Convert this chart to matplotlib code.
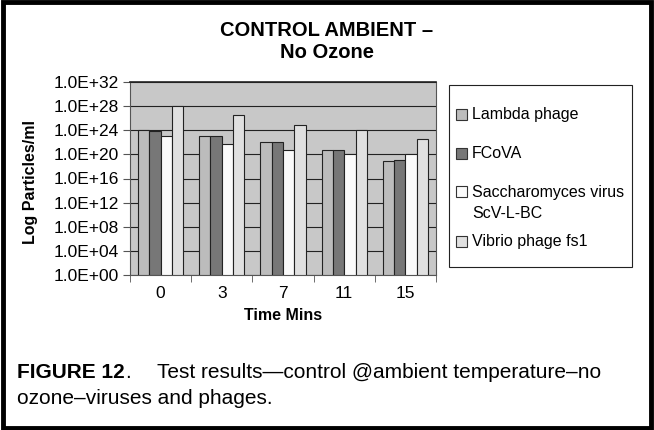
import matplotlib.pyplot as plt
import numpy as np
from matplotlib.patches import Rectangle

plt.rcParams['font.family'] = ['Liberation Sans', 'DejaVu Sans']

# time points and log10 particle counts
times = ['0', '3', '7', '11', '15']
series_names = ['Lambda phage', 'FCoVA', 'Saccharomyces virus\nScV-L-BC', 'Vibrio phage fs1']
lambda_exp = [24.0, 23.0, 22.0, 20.7, 18.9]
fcova_exp = [23.9, 23.0, 22.0, 20.8, 19.0]
sacch_exp = [23.05, 21.8, 20.8, 20.0, 20.0]
vibrio_exp = [28.0, 26.5, 24.9, 24.0, 22.6]
colors = ['#bcbcbc', '#777777', '#fafafa', '#e0e0e0']

W, H = 654.0, 430.0
fig = plt.figure(figsize=(W/100, H/100), dpi=100)
ax = fig.add_axes([130/W, 1-275/H, 306/W, 193/H])
ax.set_facecolor('#c8c8c8')

x = np.arange(len(times))
w = 0.185
allseries = [lambda_exp, fcova_exp, sacch_exp, vibrio_exp]
for i, vals in enumerate(allseries):
	vals = 10.0 ** np.array(vals)
	ax.bar(x + (i - 1.5)*w, vals - 1, bottom=1, width=w, color=colors[i],
		edgecolor='#222222', linewidth=0.8, label=series_names[i], zorder=3)

ax.set_yscale('log')
ax.set_ylim(1, 1e32)
ax.set_xlim(-0.5, len(times) - 0.5)
ax.set_yticks([10.0**k for k in range(0, 33, 4)])
ax.set_yticklabels(['1.0E+%02d' % k for k in range(0, 33, 4)], fontsize=12.5)
ax.yaxis.set_minor_locator(plt.NullLocator())
ax.grid(axis='y', color='#222222', linewidth=0.8, zorder=1)

ax.set_xticks(x)
ax.set_xticklabels(times, fontsize=12.5)
ax.set_xticks(np.arange(len(times) + 1) - 0.5, minor=True)
ax.tick_params(axis='x', which='major', length=0, pad=8)
ax.tick_params(axis='x', which='minor', length=5, color='#555555')
ax.tick_params(axis='y', length=5, color='#555555', pad=3)

for s in ['left', 'right', 'bottom']:
	ax.spines[s].set_color('#555555')
	ax.spines[s].set_linewidth(0.8)
ax.spines['top'].set_color('#222222')
ax.spines['top'].set_linewidth(1.2)

fig.text(283/W, 1-316/H, 'Time Mins', fontsize=11.5, fontweight='bold', ha='center', va='center')
fig.text(31/W, 1-182/H, 'Log Particles/ml', rotation=90, fontsize=11.5,
	fontweight='bold', ha='center', va='center')
fig.text(327/W, 1-30/H, 'CONTROL AMBIENT \u2013', fontsize=14.5,
	fontweight='bold', ha='center', va='center')
fig.text(327/W, 1-53/H, 'No Ozone', fontsize=14.5,
	fontweight='bold', ha='center', va='center')

# legend, laid out like the Excel one (uneven spacing)
fig.patches.append(Rectangle((449/W, 1-267/H), 183/W, 182/H,
	transform=fig.transFigure, fill=False, edgecolor='#222222', linewidth=0.8))
entry_y = [114, 153, 192, 241]
for i, name in enumerate(series_names):
	yy = entry_y[i]
	fig.patches.append(Rectangle((456/W, 1-(yy+5.5)/H), 11/W, 11/H, transform=fig.transFigure,
		facecolor=colors[i], edgecolor='#333333', linewidth=0.8))
	for k, line in enumerate(name.split('\n')):
		fig.text(472/W, 1-(yy + 21*k)/H, line, fontsize=11.5, va='center')

# caption
cap_size = 15
t1 = fig.text(17/W, 1-373/H, 'FIGURE 12', fontsize=cap_size, fontweight='bold', va='center')
r = fig.canvas.get_renderer()
bb = t1.get_window_extent(r)
fig.text(bb.x1/W, 1-373/H, '.', fontsize=cap_size, va='center')
fig.text(157/W, 1-373/H, 'Test results\u2014control @ambient temperature\u2013no',
	fontsize=cap_size, va='center')
fig.text(17/W, 1-399/H, 'ozone\u2013viruses and phages.', fontsize=cap_size, va='center')

# outer frame
fig.patches.append(Rectangle((0.004, 0.005), 0.992, 0.99, transform=fig.transFigure,
	fill=False, edgecolor='black', linewidth=3.5))

fig.savefig('out.png', dpi=100)
